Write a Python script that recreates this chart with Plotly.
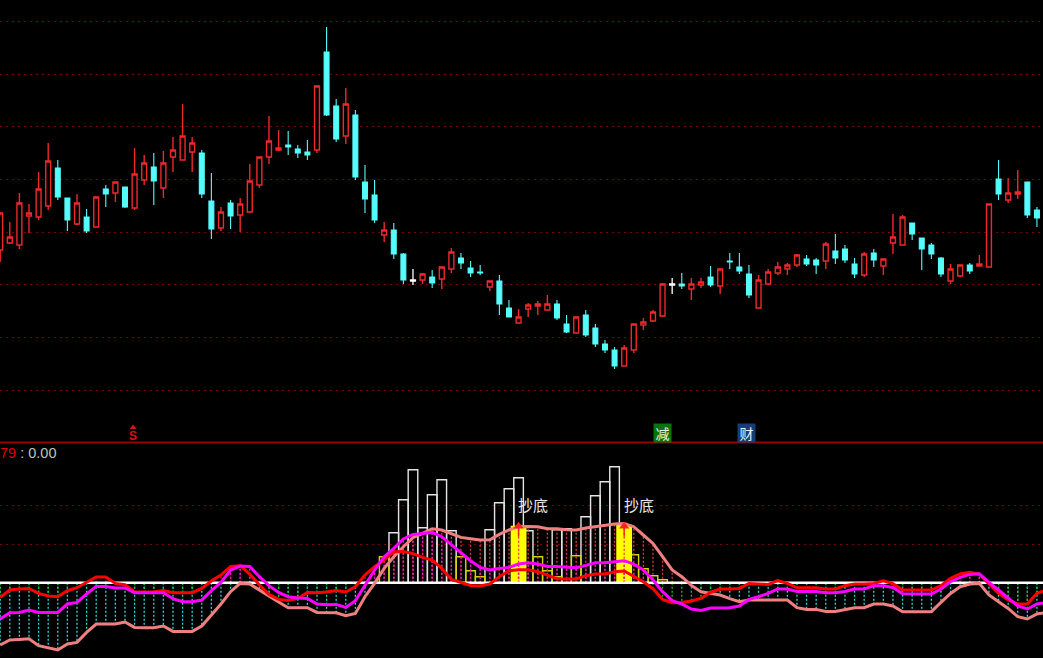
import plotly.graph_objects as go

# ---------- price panel ----------
candle_high = [22.7,21.8,24.7,23.6,26.8,29.7,28.0,24.2,24.6,23.1,24.3,25.5,25.8,25.3,29.2,28.5,28.7,28.9,30.3,33.6,
               30.3,29.0,26.7,23.3,24.0,24.2,27.6,28.3,32.4,31.0,30.9,29.5,30.0,35.4,41.3,34.1,35.2,33.0,27.5,26.0,
               21.8,21.7,18.7,17.1,16.7,17.0,17.3,19.2,18.7,17.9,17.5,15.9,16.5,14.0,13.1,13.7,13.9,14.5,14.0,12.5,
               12.3,13.0,11.6,10.0,9.3,9.5,11.6,12.2,13.0,15.7,16.2,16.7,16.2,16.2,17.4,17.1,18.7,18.7,17.5,16.5,
               17.1,17.8,17.7,18.6,18.5,18.2,19.8,20.6,19.5,18.2,18.8,19.1,18.1,22.6,22.5,21.7,20.2,19.7,18.3,17.6,
               17.5,17.7,18.5,23.6,28.0,26.2,27.0,25.8,23.3]
candle_top = [22.7,20.3,23.7,22.7,25.1,27.9,27.2,24.2,23.7,22.3,24.3,25.1,25.8,25.3,26.6,27.7,27.3,27.7,29.0,30.4,
              29.7,28.7,23.9,22.8,23.7,23.6,25.9,28.3,29.9,29.2,29.5,29.1,28.8,35.4,38.8,33.4,33.6,32.5,25.8,24.5,
              21.0,21.0,18.6,16.0,16.6,16.3,17.3,18.8,18.2,17.2,16.8,15.9,15.9,13.2,12.3,13.5,13.6,13.6,13.6,11.6,
              12.3,12.5,11.2,9.6,9.0,9.2,11.6,11.8,12.8,15.6,15.6,15.6,15.6,15.8,16.3,17.1,17.9,17.3,16.6,16.0,
              16.8,17.3,17.5,18.5,18.1,18.0,19.6,18.9,19.1,17.6,18.6,18.7,18.1,20.3,22.3,21.7,20.2,19.5,18.2,17.1,
              17.5,17.5,17.6,23.6,26.1,24.7,24.8,25.8,23.0]
candle_bottom = [19.0,19.7,19.5,22.4,22.3,23.4,24.3,22.0,21.6,20.9,21.3,24.6,24.7,23.3,23.2,26.0,25.9,25.2,28.3,28.0,
                 28.8,24.6,21.1,21.2,22.4,22.5,22.8,25.5,28.3,29.0,29.3,28.7,28.5,29.0,32.5,30.1,30.4,26.3,24.1,22.0,
                 20.5,18.6,16.0,15.9,16.0,15.7,16.1,17.1,17.7,16.7,16.7,15.3,13.6,12.3,11.7,13.1,13.4,13.0,12.2,10.8,
                 10.7,10.5,9.6,9.0,7.4,7.4,9.0,11.5,11.9,12.4,15.5,15.4,15.1,15.5,15.5,15.4,17.8,16.9,14.5,13.2,
                 15.6,16.7,17.1,17.5,17.6,17.5,17.9,18.2,18.0,16.6,16.5,18.0,17.4,19.7,19.5,20.6,19.1,18.6,16.6,15.9,
                 16.4,16.9,17.4,17.3,24.6,24.0,24.6,22.5,22.2]
candle_low = [17.8,19.6,19.1,20.7,22.0,23.0,24.0,20.9,21.5,20.7,21.3,23.3,23.8,23.2,23.0,25.5,23.5,24.2,26.8,28.0,
              26.8,24.2,20.1,20.9,21.1,20.8,22.8,25.2,27.6,28.9,28.5,28.2,28.0,28.7,32.4,29.8,29.6,26.0,22.7,21.7,
              19.8,18.1,15.6,15.5,15.6,15.2,15.1,16.7,17.1,16.3,16.5,14.9,12.5,12.3,11.6,12.3,12.5,13.0,12.0,10.7,
              10.7,10.3,9.3,8.7,7.1,7.4,8.7,11.0,11.8,12.3,14.6,15.1,14.0,15.2,15.3,14.6,17.1,16.6,14.2,13.2,
              15.6,16.5,16.5,17.3,17.4,16.6,17.1,17.6,17.7,16.2,16.3,17.3,16.5,18.6,19.5,20.0,17.0,18.1,16.3,15.6,
              16.3,16.6,17.4,17.3,24.0,23.7,24.1,22.2,21.3]
candle_kind = list("rrrrrrccrc" "rcrcrrcrrr" "rccrcrrrrr" "cccrccrccc" "rccwrcrrcc"
                   "crccrrrrcc" "rccccrrrrr" "wcrrcrcccr" "rrrrccrccc" "rcrrrccccr" "rcrrcrrcc")
price_grid = [5.0, 10.26, 15.53, 20.8, 26.06, 31.33, 36.6, 41.87]

# ---------- oscillator panel ----------
osc_red = [-14.7,-7.3,-6.3,-5.7,-10.7,-13.3,-14,-8,-5,0.3,5.7,5.7,-0.7,-2,-9,-9.3,-9,-7.7,-10,-10,
           -10,-5.7,1.7,7.7,16.3,17,8.7,-2.3,-11.7,-16.7,-17.7,-15.7,-9.7,-10,-9.3,-7.7,-9.3,-4,7.7,16,
           22.7,31,31.3,29,25.3,22.7,14.3,3.3,0.3,-2.7,-3.3,-1.3,6,12,13,13,11,7.7,4,3.7,
           3.7,7,8.7,8.7,11,11.7,6,1,-6,-16.7,-20,-19.7,-18.3,-15.7,-9.7,-6.3,-6.3,-5.7,-0.7,-1.3,
           -1.7,2,-0.7,-5,-5,-5,-6.3,-6.3,-3,-1.3,-1.3,-0.7,2,-1,-7.3,-7.3,-7.3,-7.3,-3,4.3,
           8.7,10.3,8.3,-0.7,-10.7,-17.3,-21.3,-21.3,-10.7,-7.3]
osc_magenta = [-36.3,-30,-29.7,-27.3,-29.7,-30,-29.7,-21.3,-19.7,-11.3,-3.7,-3.7,-5.3,-5.3,-10,-10,-10,-10,-16,-19,
               -19,-17.3,-8,0.3,12.7,16.7,16.3,6,-3,-9.7,-14,-15.3,-15.7,-21.3,-22,-21.7,-24.7,-18,-2.7,12.7,
               26,34.3,43.7,48.3,49.3,50.3,46,37.7,30,22,15.3,12.7,14.3,15.3,18.7,20,18.7,16.3,16.3,15.3,
               15,17.3,20,20,20.7,22,18.7,12.7,2.7,-9,-18,-21.3,-26.3,-27.7,-25.3,-25,-25,-23.3,-16.7,-14,
               -10.7,-6.3,-6.3,-8.7,-8.7,-8.7,-10,-10,-8.7,-6.3,-6.3,-3,-3,-4.7,-11,-11.3,-11.3,-11.3,-6.3,1,
               5.3,8.3,9,0.3,-7.3,-15.7,-23.3,-26.3,-21.3,-19.7]
osc_salmon = [-62.3,-57.3,-56.7,-56,-63,-65,-67.3,-61.3,-59.7,-49.7,-41.3,-41.3,-41.3,-39.3,-44.7,-45,-45,-43.3,-48.7,-48.7,
              -48.7,-43.3,-32.3,-21.3,-9,-0.7,-1.3,-7.3,-14,-19.3,-25,-25,-25,-29.7,-29.7,-30,-33,-30.7,-14,-0.7,
              14.3,26,36,45,49.3,54,52.7,49,45.3,44,42.7,43,48.3,52.7,56,56.3,56,54,54,53,
              52.7,54.7,56,57.7,58.7,59.3,56,47.7,39.3,26,12.7,6,-2.7,-9,-11,-12.3,-16,-19,-17.3,-17.3,
              -17.3,-17.3,-17.3,-25,-26.7,-26.7,-28.7,-28.7,-26.7,-25,-25,-21.3,-21.3,-23.3,-29,-29,-29,-29,-19.7,-10.7,
              -4,-1.3,-0.7,-12.3,-19,-25.7,-34,-36.3,-31.3,-29.7]
white_idx = [41,42,43,44,45,46,47,51,52,53,54,55,58,59,61,62,63,64]
white_val = [50,83,113,55,88,103,52,53,80,94,105,52,53,54,66,87,101,116]
yellow_idx = [40,48,49,50,56,57,58,60,66,67,68,69]
yellow_val = [26,26,12,6,26,12,6,27,28,14,7,3]
signal_idx = [54,65]
signal_val = [57,58]
signal_labels = ["抄底","抄底"]
osc_grid = [76.8, 38.2]

RED = "#f02828"; CYAN = "#54fcfc"
n = len(candle_high)
xs = list(range(n))
osc_xs = list(range(len(osc_red)))
fig = go.Figure()

def candles(kind, color, fill, name, width):
    idx = [i for i in xs if candle_kind[i] == kind]
    is_up = kind != "c"
    o = [candle_bottom[i] if is_up else candle_top[i] for i in idx]
    c = [candle_top[i] if is_up else candle_bottom[i] for i in idx]
    fig.add_trace(go.Candlestick(x=idx, open=o, close=c,
        high=[candle_high[i] for i in idx], low=[candle_low[i] for i in idx], name=name,
        increasing=dict(line=dict(color=color, width=width), fillcolor=fill),
        decreasing=dict(line=dict(color=color, width=width), fillcolor=fill),
        whiskerwidth=0, yaxis="y", xaxis="x", showlegend=False))

candles("r", RED, "#000000", "up", 1.4)
candles("c", CYAN, CYAN, "down", 1.1)
candles("w", "#ffffff", "#ffffff", "flat", 1.3)

# bars
fig.add_trace(go.Bar(x=white_idx, y=white_val, width=1.0, yaxis="y2", xaxis="x",
                     marker=dict(color="rgba(0,0,0,0)", line=dict(color="#e4e4e4", width=1.4)), showlegend=False))
fig.add_trace(go.Bar(x=yellow_idx, y=yellow_val, width=1.0, yaxis="y2", xaxis="x",
                     marker=dict(color="rgba(0,0,0,0)", line=dict(color="#d4d400", width=1.4)), showlegend=False))
fig.add_trace(go.Bar(x=signal_idx, y=signal_val, width=1.65, yaxis="y2", xaxis="x",
                     marker=dict(color="#ffff00", line=dict(width=0)), showlegend=False))

def stems(values, color, keep):
    sx, sy = [], []
    for i in osc_xs:
        if keep(i):
            sx += [i, i, None]; sy += [0, values[i], None]
    fig.add_trace(go.Scatter(x=sx, y=sy, mode="lines", yaxis="y2", xaxis="x", showlegend=False, hoverinfo="skip",
                             line=dict(color=color, width=1.3, dash="2px,2px")))

stems(osc_salmon, "#20e0e0", lambda i: osc_salmon[i] < 0)
stems(osc_red, "#10c810", lambda i: osc_red[i] < 0)
stems(osc_salmon, "#d84040", lambda i: osc_salmon[i] > 0)
stems(osc_red, "#e02040", lambda i: osc_red[i] > 0)
stems(osc_magenta, "#ff10d0", lambda i: osc_magenta[i] > 0)

fig.add_trace(go.Scatter(x=[-1, n + 1], y=[0, 0], mode="lines", yaxis="y2", xaxis="x", showlegend=False,
                         hoverinfo="skip", line=dict(color="#ffffff", width=2.5)))

for vals, col in ((osc_salmon, "#f08080"), (osc_red, "#ff0000"), (osc_magenta, "#ff00ff")):
    fig.add_trace(go.Scatter(x=osc_xs, y=vals, mode="lines", yaxis="y2", xaxis="x", showlegend=False,
                             hoverinfo="skip", line=dict(color=col, width=3)))

# signal arrows
sx, sy = [], []
for i in signal_idx:
    sx += [i, i, None]; sy += [46, 55, None]
fig.add_trace(go.Scatter(x=sx, y=sy, mode="lines", yaxis="y2", xaxis="x", showlegend=False,
                         hoverinfo="skip", line=dict(color="#ff2020", width=1.5)))
fig.add_trace(go.Scatter(x=signal_idx, y=[56.5, 56.5], mode="markers", yaxis="y2", xaxis="x", showlegend=False,
                         hoverinfo="skip", marker=dict(symbol="triangle-up", size=9, color="#ff2020")))
# S marker triangle
fig.add_trace(go.Scatter(x=[13.85], y=[1.25], mode="markers", yaxis="y", xaxis="x", showlegend=False,
                         hoverinfo="skip", marker=dict(symbol="triangle-up", size=6, color="#e01010")))

annotations = []
for i, lab in zip(signal_idx, signal_labels):
    annotations.append(dict(x=i + 1.5, y=78.5, xref="x", yref="y2", text=lab, showarrow=False,
                            font=dict(family="Noto Sans CJK SC", size=15, color="#e8e8e8")))
annotations.append(dict(x=13.85, y=0.38, xref="x", yref="y", text="<b>S</b>", showarrow=False,
                        font=dict(family="Liberation Sans", size=12, color="#e01010")))
annotations.append(dict(x=69.0, y=0.75, xref="x", yref="y", text="减", showarrow=False, width=15, height=16,
                        bgcolor="#0a720a", font=dict(family="Noto Sans CJK SC", size=14, color="#e8f4e8")))
annotations.append(dict(x=77.76, y=0.75, xref="x", yref="y", text="财", showarrow=False, width=15, height=16,
                        bgcolor="#123f78", font=dict(family="Noto Sans CJK SC", size=14, color="#eef2f8")))
annotations.append(dict(x=0, y=130, xref="paper", yref="y2", xanchor="left", xshift=-2, showarrow=False,
                        text="<span style='color:#e00000'>79</span> : 0.00",
                        font=dict(family="Liberation Sans", size=14.5, color="#c0c0c0")))

H = 658.0
fig.update_layout(
    width=1043, height=658, margin=dict(l=0, r=0, t=0, b=0), autosize=False,
    paper_bgcolor="#000000", plot_bgcolor="#000000", showlegend=False, barmode="overlay", boxgap=0.27,
    xaxis=dict(range=[-0.02, 108.63], showgrid=False, zeroline=False, showticklabels=False, ticks="",
               showline=False, rangeslider=dict(visible=False), anchor="y2"),
    yaxis=dict(domain=[(H - 442) / H, 1], range=[-0.2, 44], tickvals=price_grid, showticklabels=False, ticks="",
               gridcolor="#7a0000", griddash="2px,4px", gridwidth=1, zeroline=False, showline=False),
    yaxis2=dict(domain=[0, (H - 443) / H], range=[-75.3, 139.7], tickvals=osc_grid, showticklabels=False, ticks="",
                gridcolor="#7a0000", griddash="2px,4px", gridwidth=1, zeroline=False, showline=False),
    shapes=[dict(type="line", xref="paper", yref="paper", x0=0, x1=1, y0=(H - 442.5) / H, y1=(H - 442.5) / H,
                 line=dict(color="#9a0000", width=2))],
    annotations=annotations,
)
fig.write_html("out.html", post_script="document.body.style.margin='0';document.body.style.background='#000';document.body.style.overflow='hidden';",
               config=dict(displayModeBar=False))
